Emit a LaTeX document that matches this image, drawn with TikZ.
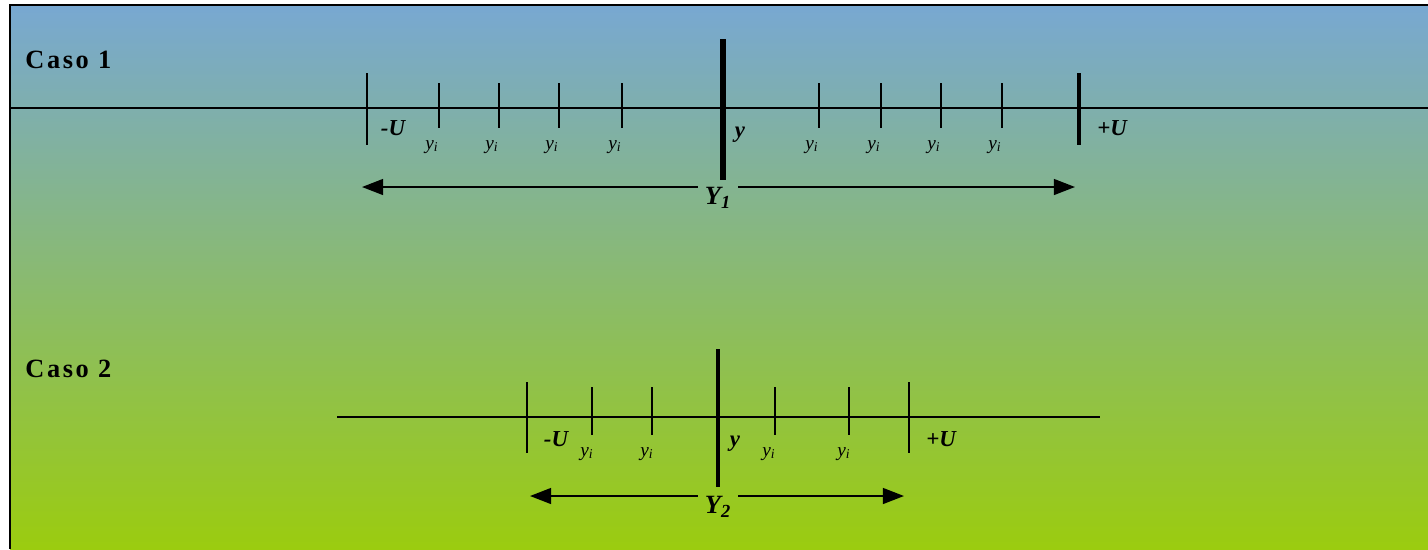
\documentclass[tikz,border=0pt]{standalone}
\usepackage{fontspec}
\setmainfont{Liberation Serif}
\newfontfamily\casofont[LetterSpace=10]{Liberation Serif}
\usetikzlibrary{arrows.meta}

\definecolor{bgtop}{RGB}{120,168,210}
\definecolor{bgmid}{RGB}{140,190,145}
\definecolor{bgbot}{RGB}{155,204,15}

\begin{document}
\begin{tikzpicture}[
    x=0.02cm,y=-0.02cm,
    axisline/.style={line width=1.1pt},
    tickline/.style={line width=1pt},
    bound/.style={line width=1.2pt},
    barline/.style={line width=3.4pt},
    casetitle/.style={anchor=base west,inner sep=0pt,font=\casofont\fontsize{15}{17}\selectfont\bfseries},
    lim/.style={anchor=base,inner sep=0pt,font=\fontsize{13}{15}\selectfont\bfseries\itshape},
    obs/.style={anchor=base,inner sep=0pt,font=\fontsize{11}{13}\selectfont\itshape},
    spanlabel/.style={anchor=north,inner xsep=4pt,inner ysep=0pt,font=\fontsize{15}{17}\selectfont\bfseries\itshape},
    link/.style={-{Triangle[length=12pt,width=9pt]},line width=1.1pt},
  ]
    \useasboundingbox (0,0) rectangle (1428,549);
    \shade[top color=bgtop,middle color=bgmid,bottom color=bgbot] (10,5) rectangle (1428,549);
    \draw[bound] (1428,5) -- (10,5) -- (10,549);

    % Caso 1
    \node[casetitle] (caso1) at (25,68) {Caso 1};
    \draw[axisline] (10,108) -- (1428,108);
    \draw[tickline,line width=1.2pt] (367,73) -- (367,145);
    \draw[tickline] (439,83) -- (439,128);
    \draw[tickline] (499,83) -- (499,128);
    \draw[tickline] (559,83) -- (559,128);
    \draw[tickline] (622,83) -- (622,128);
    \draw[barline] (723,39) -- (723,180);
    \draw[tickline] (819,83) -- (819,128);
    \draw[tickline] (881,83) -- (881,128);
    \draw[tickline] (941,83) -- (941,128);
    \draw[tickline] (1002,83) -- (1002,128);
    \draw[tickline,line width=2.4pt] (1079,73) -- (1079,145);

    \node[lim] (mu1) at (393,135) {-U};
    \node[obs] (a1) at (432,149) {y\textsubscript{i}};
    \node[obs] (b1) at (492,149) {y\textsubscript{i}};
    \node[obs] (c1) at (552,149) {y\textsubscript{i}};
    \node[obs] (d1) at (615,149) {y\textsubscript{i}};
    \node[lim] (y1) at (740,137) {y};
    \node[obs] (e1) at (812,149) {y\textsubscript{i}};
    \node[obs] (f1) at (874,149) {y\textsubscript{i}};
    \node[obs] (g1) at (934,149) {y\textsubscript{i}};
    \node[obs] (h1) at (995,149) {y\textsubscript{i}};
    \node[lim] (pu1) at (1112,135) {+U};

    \node[spanlabel] (Y1) at (718,187) {Y\textsubscript{1}};
    \coordinate (left1) at (362,187);
    \coordinate (right1) at (1075,187);
    \draw[link] (Y1.north west) -- (left1);
    \draw[link] (Y1.north east) -- (right1);

    % Caso 2
    \node[casetitle] (caso2) at (25,377) {Caso 2};
    \draw[axisline] (337,417) -- (1100,417);
    \draw[tickline,line width=1.2pt] (527,382) -- (527,453);
    \draw[tickline] (592,387) -- (592,435);
    \draw[tickline] (652,387) -- (652,435);
    \draw[barline,line width=2.6pt] (718,349) -- (718,487);
    \draw[tickline] (775,387) -- (775,435);
    \draw[tickline] (849,387) -- (849,435);
    \draw[tickline,line width=1.2pt] (909,382) -- (909,453);

    \node[lim] (mu2) at (556,446) {-U};
    \node[obs] (a2) at (587,456) {y\textsubscript{i}};
    \node[obs] (b2) at (647,456) {y\textsubscript{i}};
    \node[lim] (y2) at (735,446) {y};
    \node[obs] (c2) at (769,456) {y\textsubscript{i}};
    \node[obs] (d2) at (844,456) {y\textsubscript{i}};
    \node[lim] (pu2) at (941,446) {+U};

    \node[spanlabel] (Y2) at (718,496) {Y\textsubscript{2}};
    \coordinate (left2) at (530,496);
    \coordinate (right2) at (904,496);
    \draw[link] (Y2.north west) -- (left2);
    \draw[link] (Y2.north east) -- (right2);
  \end{tikzpicture}
\end{document}
